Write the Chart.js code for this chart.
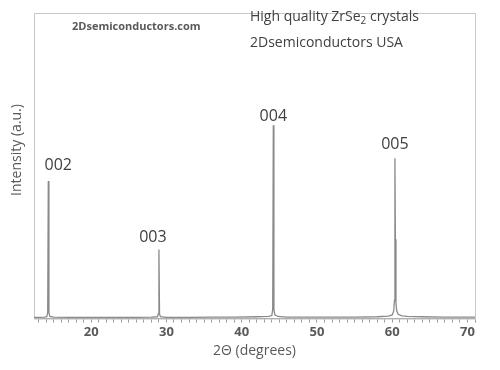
<!DOCTYPE html>
<html>
<head>
<meta charset="utf-8">
<script src="https://cdn.jsdelivr.net/npm/chart.js@4"></script>
<style>
html,body{margin:0;padding:0;background:#fff;}
#wrap{width:500px;height:370px;position:relative;}
</style>
</head>
<body>
<div id="wrap"><canvas id="c" width="500" height="370"></canvas></div>
<script>
// 2-theta positions (degrees) of the measured pattern
const twoTheta = [12.4, 13.0, 13.8, 14.1, 14.22, 14.3, 14.38, 14.5, 15.0, 17.0, 20.0, 23.0, 26.0, 28.0, 28.8, 28.92, 29.0, 29.08, 29.2, 30.0, 33.0, 36.0, 39.0, 42.0, 43.6, 44.0, 44.12, 44.2, 44.28, 44.4, 44.8, 46.0, 49.0, 52.0, 55.0, 58.0, 59.5, 60.0, 60.2, 60.3, 60.36, 60.42, 60.5, 60.6, 60.8, 61.3, 62.0, 64.0, 67.0, 70.0, 71.0];
// intensity (a.u., % of axis height)
const intensity = [0.4, 0.4, 0.5, 0.6, 2.0, 45.0, 2.0, 0.7, 0.5, 0.4, 0.4, 0.4, 0.4, 0.5, 0.6, 1.5, 22.6, 1.5, 0.6, 0.4, 0.4, 0.5, 0.5, 0.6, 0.7, 1.0, 3.0, 63.3, 3.0, 1.2, 0.7, 0.5, 0.5, 0.5, 0.5, 0.6, 0.8, 1.2, 2.5, 6.0, 52.5, 26.0, 5.0, 2.5, 1.4, 0.9, 0.7, 0.6, 0.5, 0.5, 0.5];
// peak (Miller index) labels
const peakLabels = ['002', '003', '004', '005'];
const peakTheta = [14.3, 29.0, 44.2, 60.36];
const peakHeight = [45.0, 22.6, 63.3, 52.5];
const xTickLabels = [20, 30, 40, 50, 60, 70];

const grey = '#595959';

const decor = {
  id: 'decor',
  beforeDatasetsDraw(chart) {
    const {ctx, chartArea: a} = chart;
    ctx.save();
    ctx.strokeStyle = '#c8c8c8';
    ctx.lineWidth = 1;
    ctx.strokeRect(a.left + 0.5, a.top + 0.5, a.right - a.left, a.bottom - a.top);
    ctx.restore();
  },
  afterDatasetsDraw(chart) {
    const {ctx, chartArea: a, scales: {x, y}} = chart;
    ctx.save();
    // y-axis title
    ctx.fillStyle = grey;
    ctx.font = '14px "Open Sans"';
    ctx.textAlign = 'center';
    ctx.textBaseline = 'middle';
    ctx.translate(17, 150);
    ctx.rotate(-Math.PI / 2);
    ctx.fillText('Intensity (a.u.)', 0, 0);
    ctx.setTransform(1, 0, 0, 1, 0, 0);
    // peak labels
    ctx.fillStyle = '#404040';
    ctx.font = '16px "Open Sans"';
    ctx.textAlign = 'center';
    ctx.textBaseline = 'bottom';
    const dx = [10, -6, 0, 0];
    const dy = [8, 4, 1, 6];
    peakLabels.forEach((lab, i) => {
      const px = x.getPixelForValue(peakTheta[i]) + dx[i];
      const py = y.getPixelForValue(peakHeight[i]) - dy[i];
      ctx.fillText(lab, px, py);
    });
    // top texts
    ctx.textAlign = 'left';
    ctx.textBaseline = 'middle';
    ctx.fillStyle = '#595959';
    ctx.font = 'bold 11px "Open Sans"';
    ctx.fillText('2Dsemiconductors.com', 72, 27);
    ctx.fillStyle = '#404040';
    ctx.font = '14px "Open Sans"';
    let tx = 250;
    const t1 = 'High quality ZrSe';
    ctx.fillText(t1, tx, 17);
    tx += ctx.measureText(t1).width;
    ctx.font = '10px "Open Sans"';
    ctx.fillText('2', tx, 21);
    tx += ctx.measureText('2').width;
    ctx.font = '14px "Open Sans"';
    ctx.fillText(' crystals', tx, 17);
    ctx.fillText('2Dsemiconductors USA', 250, 43);
    ctx.restore();
  }
};

new Chart(document.getElementById('c'), {
  type: 'line',
  data: {
    datasets: [{
      data: twoTheta.map((t, i) => ({x: t, y: intensity[i]})),
      borderColor: '#8a8a8a',
      borderWidth: 1.3,
      pointRadius: 0,
      tension: 0,
      fill: false
    }]
  },
  options: {
    responsive: false,
    animation: false,
    devicePixelRatio: 1,
    layout: {padding: {left: 34, right: 25, top: 13, bottom: 11}},
    plugins: {legend: {display: false}, tooltip: {enabled: false}},
    scales: {
      x: {
        type: 'linear',
        min: 12.4,
        max: 71,
        border: {color: '#a0a0a0', width: 1},
        grid: {display: true, drawOnChartArea: false, drawTicks: true, tickLength: 4, color: '#a0a0a0'},
        ticks: {
          stepSize: 1,
          includeBounds: false,
          autoSkip: false,
          maxTicksLimit: 100,
          maxRotation: 0,
          padding: 2,
          color: grey,
          font: {family: '"Open Sans"', size: 13, weight: 'bold'},
          callback: v => xTickLabels.includes(v) ? String(v) : ''
        },
        title: {display: true, text: '2Θ (degrees)', color: grey, padding: {top: 0, bottom: 0}, font: {family: '"Open Sans"', size: 14}}
      },
      y: {
        display: false,
        min: 0,
        max: 100
      }
    }
  },
  plugins: [decor]
});
</script>
</body>
</html>
